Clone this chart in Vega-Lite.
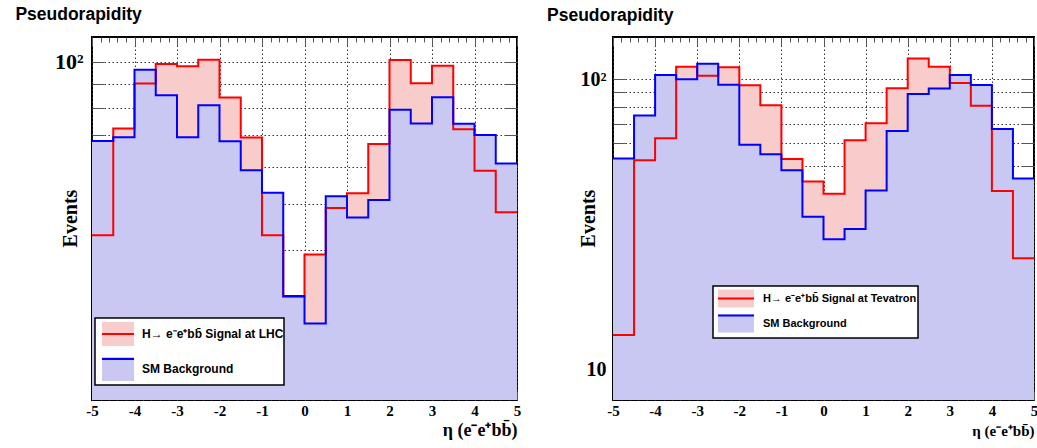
{
  "$schema": "https://vega.github.io/schema/vega-lite/v6.json",
  "background": "white",
  "padding": {"left": 14, "top": 5, "right": 0, "bottom": 0},
  "spacing": 24,
  "config": {
    "view": {"stroke": "black", "strokeWidth": 2},
    "axis": {
      "labelFont": "Liberation Serif", "labelFontWeight": "bold", "labelColor": "black",
      "titleFont": "Liberation Serif", "titleFontWeight": "bold", "titleColor": "black",
      "domain": false, "tickColor": "#555", "gridColor": "#333", "gridDash": [1.5, 2.5], "gridWidth": 1,
      "zindex": 1, "labelOverlap": false, "labelFlush": false, "labelBound": false
    }
  },
  "datasets": {
    "lhc": [
      {"eta": -5, "events": 43.0, "series": "H→ e⁻e⁺bb̄ Signal at LHC"},
      {"eta": -4.5, "events": 72.3, "series": "H→ e⁻e⁺bb̄ Signal at LHC"},
      {"eta": -4, "events": 90.0, "series": "H→ e⁻e⁺bb̄ Signal at LHC"},
      {"eta": -3.5, "events": 99.0, "series": "H→ e⁻e⁺bb̄ Signal at LHC"},
      {"eta": -3, "events": 97.9, "series": "H→ e⁻e⁺bb̄ Signal at LHC"},
      {"eta": -2.5, "events": 101.1, "series": "H→ e⁻e⁺bb̄ Signal at LHC"},
      {"eta": -2, "events": 84.1, "series": "H→ e⁻e⁺bb̄ Signal at LHC"},
      {"eta": -1.5, "events": 69.2, "series": "H→ e⁻e⁺bb̄ Signal at LHC"},
      {"eta": -1, "events": 43.0, "series": "H→ e⁻e⁺bb̄ Signal at LHC"},
      {"eta": -0.5, "events": 31.9, "series": "H→ e⁻e⁺bb̄ Signal at LHC"},
      {"eta": 0, "events": 39.2, "series": "H→ e⁻e⁺bb̄ Signal at LHC"},
      {"eta": 0.5, "events": 49.1, "series": "H→ e⁻e⁺bb̄ Signal at LHC"},
      {"eta": 1, "events": 52.8, "series": "H→ e⁻e⁺bb̄ Signal at LHC"},
      {"eta": 1.5, "events": 67.1, "series": "H→ e⁻e⁺bb̄ Signal at LHC"},
      {"eta": 2, "events": 101.0, "series": "H→ e⁻e⁺bb̄ Signal at LHC"},
      {"eta": 2.5, "events": 90.2, "series": "H→ e⁻e⁺bb̄ Signal at LHC"},
      {"eta": 3, "events": 98.2, "series": "H→ e⁻e⁺bb̄ Signal at LHC"},
      {"eta": 3.5, "events": 72.1, "series": "H→ e⁻e⁺bb̄ Signal at LHC"},
      {"eta": 4, "events": 58.9, "series": "H→ e⁻e⁺bb̄ Signal at LHC"},
      {"eta": 4.5, "events": 48.1, "series": "H→ e⁻e⁺bb̄ Signal at LHC"},
      {"eta": 5, "events": 48.1, "series": "H→ e⁻e⁺bb̄ Signal at LHC"},
      {"eta": -5, "events": 68.1, "series": "SM Background"},
      {"eta": -4.5, "events": 69.3, "series": "SM Background"},
      {"eta": -4, "events": 96.3, "series": "SM Background"},
      {"eta": -3.5, "events": 85.0, "series": "SM Background"},
      {"eta": -3, "events": 69.3, "series": "SM Background"},
      {"eta": -2.5, "events": 81.0, "series": "SM Background"},
      {"eta": -2, "events": 68.0, "series": "SM Background"},
      {"eta": -1.5, "events": 59.0, "series": "SM Background"},
      {"eta": -1, "events": 52.9, "series": "SM Background"},
      {"eta": -0.5, "events": 32.0, "series": "SM Background"},
      {"eta": 0, "events": 28.0, "series": "SM Background"},
      {"eta": 0.5, "events": 52.0, "series": "SM Background"},
      {"eta": 1, "events": 46.9, "series": "SM Background"},
      {"eta": 1.5, "events": 51.1, "series": "SM Background"},
      {"eta": 2, "events": 79.2, "series": "SM Background"},
      {"eta": 2.5, "events": 74.1, "series": "SM Background"},
      {"eta": 3, "events": 84.2, "series": "SM Background"},
      {"eta": 3.5, "events": 74.0, "series": "SM Background"},
      {"eta": 4, "events": 70.1, "series": "SM Background"},
      {"eta": 4.5, "events": 61.0, "series": "SM Background"},
      {"eta": 5, "events": 61.0, "series": "SM Background"}
    ],
    "tev": [
      {"eta": -5, "events": 13.1, "series": "H→ e⁻e⁺bb̄ Signal at Tevatron"},
      {"eta": -4.5, "events": 52.5, "series": "H→ e⁻e⁺bb̄ Signal at Tevatron"},
      {"eta": -4, "events": 62.5, "series": "H→ e⁻e⁺bb̄ Signal at Tevatron"},
      {"eta": -3.5, "events": 110.3, "series": "H→ e⁻e⁺bb̄ Signal at Tevatron"},
      {"eta": -3, "events": 102.7, "series": "H→ e⁻e⁺bb̄ Signal at Tevatron"},
      {"eta": -2.5, "events": 109.7, "series": "H→ e⁻e⁺bb̄ Signal at Tevatron"},
      {"eta": -2, "events": 95.1, "series": "H→ e⁻e⁺bb̄ Signal at Tevatron"},
      {"eta": -1.5, "events": 81.2, "series": "H→ e⁻e⁺bb̄ Signal at Tevatron"},
      {"eta": -1, "events": 53.0, "series": "H→ e⁻e⁺bb̄ Signal at Tevatron"},
      {"eta": -0.5, "events": 44.3, "series": "H→ e⁻e⁺bb̄ Signal at Tevatron"},
      {"eta": 0, "events": 40.2, "series": "H→ e⁻e⁺bb̄ Signal at Tevatron"},
      {"eta": 0.5, "events": 61.5, "series": "H→ e⁻e⁺bb̄ Signal at Tevatron"},
      {"eta": 1, "events": 70.4, "series": "H→ e⁻e⁺bb̄ Signal at Tevatron"},
      {"eta": 1.5, "events": 92.9, "series": "H→ e⁻e⁺bb̄ Signal at Tevatron"},
      {"eta": 2, "events": 117.8, "series": "H→ e⁻e⁺bb̄ Signal at Tevatron"},
      {"eta": 2.5, "events": 110.3, "series": "H→ e⁻e⁺bb̄ Signal at Tevatron"},
      {"eta": 3, "events": 96.9, "series": "H→ e⁻e⁺bb̄ Signal at Tevatron"},
      {"eta": 3.5, "events": 80.8, "series": "H→ e⁻e⁺bb̄ Signal at Tevatron"},
      {"eta": 4, "events": 41.1, "series": "H→ e⁻e⁺bb̄ Signal at Tevatron"},
      {"eta": 4.5, "events": 24.1, "series": "H→ e⁻e⁺bb̄ Signal at Tevatron"},
      {"eta": 5, "events": 24.1, "series": "H→ e⁻e⁺bb̄ Signal at Tevatron"},
      {"eta": -5, "events": 53.2, "series": "SM Background"},
      {"eta": -4.5, "events": 74.8, "series": "SM Background"},
      {"eta": -4, "events": 103.2, "series": "SM Background"},
      {"eta": -3.5, "events": 99.8, "series": "SM Background"},
      {"eta": -3, "events": 113.0, "series": "SM Background"},
      {"eta": -2.5, "events": 95.6, "series": "SM Background"},
      {"eta": -2, "events": 59.3, "series": "SM Background"},
      {"eta": -1.5, "events": 55.0, "series": "SM Background"},
      {"eta": -1, "events": 48.5, "series": "SM Background"},
      {"eta": -0.5, "events": 33.5, "series": "SM Background"},
      {"eta": 0, "events": 28.0, "series": "SM Background"},
      {"eta": 0.5, "events": 30.4, "series": "SM Background"},
      {"eta": 1, "events": 41.3, "series": "SM Background"},
      {"eta": 1.5, "events": 66.2, "series": "SM Background"},
      {"eta": 2, "events": 88.8, "series": "SM Background"},
      {"eta": 2.5, "events": 92.7, "series": "SM Background"},
      {"eta": 3, "events": 103.2, "series": "SM Background"},
      {"eta": 3.5, "events": 95.4, "series": "SM Background"},
      {"eta": 4, "events": 67.3, "series": "SM Background"},
      {"eta": 4.5, "events": 45.4, "series": "SM Background"},
      {"eta": 5, "events": 45.4, "series": "SM Background"}
    ]
  },
  "resolve": {
    "scale": {"x": "independent", "y": "independent", "fill": "independent", "stroke": "independent"},
    "legend": {"fill": "independent", "stroke": "independent"}
  },
  "hconcat": [
    {
      "width": 425, "height": 363,
      "data": {"name": "lhc"},
      "title": {"text": "Pseudorapidity", "anchor": "start", "frame": "bounds", "font": "Liberation Sans", "fontWeight": "bold", "fontSize": 17.5, "color": "black", "offset": 13, "dx": -39},
      "resolve": {"axis": {"x": "independent", "y": "independent"}},
      "layer": [
        {
          "transform": [{"filter": {"not": {"field": "series", "equal": "SM Background"}}}],
          "mark": {"type": "area", "interpolate": "step-after", "clip": true},
          "encoding": {
            "x": {"field": "eta", "type": "quantitative", "scale": {"domain": [-5, 5], "nice": false, "zero": false},
              "axis": {"orient": "bottom", "values": [-5,-4.8,-4.6,-4.4,-4.2,-4,-3.8,-3.6,-3.4,-3.2,-3,-2.8,-2.6,-2.4,-2.2,-2,-1.8,-1.6,-1.4,-1.2,-1,-0.8,-0.6,-0.4,-0.2,0,0.2,0.4,0.6,0.8,1,1.2,1.4,1.6,1.8,2,2.2,2.4,2.6,2.8,3,3.2,3.4,3.6,3.8,4,4.2,4.4,4.6,4.8,5],
                "labelExpr": "datum.value % 1 == 0 ? toString(datum.value) : ''",
                "labelFontSize": 15, "labelPadding": 12,
                "tickSize": {"condition": {"test": "datum.value % 1 == 0", "value": -9}, "value": -5},
                "grid": true, "gridOpacity": {"condition": {"test": "datum.value % 1 == 0", "value": 1}, "value": 0},
                "title": "η (e⁻e⁺bb̄)", "titleFontSize": 18, "titleX": 425, "titleY": 30, "titleAlign": "right", "titleBaseline": "middle", "titleAnchor": "end"}},
            "y": {"field": "events", "type": "quantitative", "stack": null, "scale": {"type": "log", "domain": [19.3, 112.9], "nice": false},
              "axis": {"orient": "left", "values": [20,30,40,50,60,70,80,90,100],
                "labelExpr": "datum.value == 100 ? '10²' : ''", "labelFontSize": 22, "labelPadding": 21,
                "tickSize": -12, "grid": true,
                "title": "Events", "titleFontSize": 20, "titleX": -22, "titleY": 181, "titleAngle": -90, "titleAlign": "center", "titleBaseline": "middle"}},
            "fill": {"field": "series", "type": "nominal",
              "scale": {"domain": ["H→ e⁻e⁺bb̄ Signal at LHC", "SM Background"], "range": ["#f9cccc", "#c8c8f2"]},
              "legend": {"orient": "none", "legendX": 3, "legendY": 281, "title": null, "padding": 0, "rowPadding": 3,
                "symbolType": "M-0.6,-0.8H1.533V0.8H-0.6Z", "symbolSize": 900, "symbolStrokeWidth": 2, "symbolStrokeColor": "transparent",
                "labelOffset": 15, "labelFont": "Liberation Sans", "labelFontWeight": "bold", "labelFontSize": 12, "labelColor": "black", "labelLimit": 400,
                "fillColor": "white", "strokeColor": "black",
                "encode": {"legend": {"update": {"strokeWidth": {"value": 1.5}}}}}}
          }
        },
        {
          "transform": [{"filter": {"field": "series", "equal": "SM Background"}}],
          "mark": {"type": "area", "interpolate": "step-after", "clip": true},
          "encoding": {
            "x": {"field": "eta", "type": "quantitative",
              "axis": {"orient": "top", "values": [-5,-4.8,-4.6,-4.4,-4.2,-4,-3.8,-3.6,-3.4,-3.2,-3,-2.8,-2.6,-2.4,-2.2,-2,-1.8,-1.6,-1.4,-1.2,-1,-0.8,-0.6,-0.4,-0.2,0,0.2,0.4,0.6,0.8,1,1.2,1.4,1.6,1.8,2,2.2,2.4,2.6,2.8,3,3.2,3.4,3.6,3.8,4,4.2,4.4,4.6,4.8,5],
                "labels": false, "grid": false, "title": null,
                "tickSize": {"condition": {"test": "datum.value % 1 == 0", "value": -9}, "value": -5}}},
            "y": {"field": "events", "type": "quantitative", "stack": null,
              "axis": {"orient": "right", "values": [20,30,40,50,60,70,80,90,100], "labels": false, "grid": false, "title": null, "tickSize": -12}},
            "fill": {"field": "series", "type": "nominal"}
          }
        },
        {
          "transform": [{"filter": {"not": {"field": "series", "equal": "SM Background"}}}],
          "mark": {"type": "line", "interpolate": "step-after", "clip": true, "strokeWidth": 2},
          "encoding": {
            "x": {"field": "eta", "type": "quantitative", "axis": null},
            "y": {"field": "events", "type": "quantitative", "axis": null},
            "stroke": {"field": "series", "type": "nominal",
              "scale": {"range": ["#ff0000", "#0000ff"]},
              "legend": {"orient": "none", "legendX": 3, "legendY": 281, "title": null, "padding": 0, "rowPadding": 3,
                "symbolType": "M-0.6,0H1.533", "symbolSize": 900, "symbolStrokeWidth": 2, "symbolFillColor": "transparent",
                "labelOffset": 15, "labelFont": "Liberation Sans", "labelFontWeight": "bold", "labelFontSize": 12, "labelExpr": "''", "labelLimit": 400,
                "strokeColor": "transparent"}}
          }
        },
        {
          "transform": [{"filter": {"field": "series", "equal": "SM Background"}}],
          "mark": {"type": "line", "interpolate": "step-after", "clip": true, "strokeWidth": 2},
          "encoding": {
            "x": {"field": "eta", "type": "quantitative", "axis": null},
            "y": {"field": "events", "type": "quantitative", "axis": null},
            "stroke": {"field": "series", "type": "nominal"}
          }
        }
      ]
    },
    {
      "width": 421, "height": 363,
      "data": {"name": "tev"},
      "title": {"text": "Pseudorapidity", "anchor": "start", "frame": "bounds", "font": "Liberation Sans", "fontWeight": "bold", "fontSize": 17.5, "color": "black", "offset": 12, "dx": -31},
      "resolve": {"axis": {"x": "independent", "y": "independent"}},
      "layer": [
        {
          "transform": [{"filter": {"not": {"field": "series", "equal": "SM Background"}}}],
          "mark": {"type": "area", "interpolate": "step-after", "clip": true},
          "encoding": {
            "x": {"field": "eta", "type": "quantitative", "scale": {"domain": [-5, 5], "nice": false, "zero": false},
              "axis": {"orient": "bottom", "values": [-5,-4.8,-4.6,-4.4,-4.2,-4,-3.8,-3.6,-3.4,-3.2,-3,-2.8,-2.6,-2.4,-2.2,-2,-1.8,-1.6,-1.4,-1.2,-1,-0.8,-0.6,-0.4,-0.2,0,0.2,0.4,0.6,0.8,1,1.2,1.4,1.6,1.8,2,2.2,2.4,2.6,2.8,3,3.2,3.4,3.6,3.8,4,4.2,4.4,4.6,4.8,5],
                "labelExpr": "datum.value % 1 == 0 ? toString(datum.value) : ''",
                "labelFontSize": 15, "labelPadding": 12,
                "tickSize": {"condition": {"test": "datum.value % 1 == 0", "value": -9}, "value": -5},
                "grid": true, "gridOpacity": {"condition": {"test": "datum.value % 1 == 0", "value": 1}, "value": 0},
                "title": "η (e⁻e⁺bb̄)", "titleFontSize": 15, "titleX": 421, "titleY": 30, "titleAlign": "right", "titleBaseline": "middle", "titleAnchor": "end"}},
            "y": {"field": "events", "type": "quantitative", "stack": null, "scale": {"type": "log", "domain": [7.82, 139.6], "nice": false},
              "axis": {"orient": "left", "values": [9,10,20,30,40,50,60,70,80,90,100],
                "labelExpr": "datum.value == 100 ? '10²' : datum.value == 10 ? '10' : ''", "labelFontSize": 20, "labelPadding": 19,
                "tickSize": -12, "grid": true,
                "title": "Events", "titleFontSize": 20, "titleX": -25, "titleY": 181, "titleAngle": -90, "titleAlign": "center", "titleBaseline": "middle"}},
            "fill": {"field": "series", "type": "nominal",
              "scale": {"domain": ["H→ e⁻e⁺bb̄ Signal at Tevatron", "SM Background"], "range": ["#f9cccc", "#c8c8f2"]},
              "legend": {"orient": "none", "legendX": 100, "legendY": 249, "title": null, "padding": 1, "rowPadding": -8,
                "symbolType": "M-0.714,-0.857H2.714V0.857H-0.714Z", "symbolSize": 441, "symbolStrokeWidth": 2, "symbolStrokeColor": "transparent",
                "labelOffset": 26, "labelFont": "Liberation Sans", "labelFontWeight": "bold", "labelFontSize": 11, "labelColor": "black", "labelLimit": 400,
                "fillColor": "white", "strokeColor": "black",
                "encode": {"legend": {"update": {"strokeWidth": {"value": 1.5}}}}}}
          }
        },
        {
          "transform": [{"filter": {"field": "series", "equal": "SM Background"}}],
          "mark": {"type": "area", "interpolate": "step-after", "clip": true},
          "encoding": {
            "x": {"field": "eta", "type": "quantitative",
              "axis": {"orient": "top", "values": [-5,-4.8,-4.6,-4.4,-4.2,-4,-3.8,-3.6,-3.4,-3.2,-3,-2.8,-2.6,-2.4,-2.2,-2,-1.8,-1.6,-1.4,-1.2,-1,-0.8,-0.6,-0.4,-0.2,0,0.2,0.4,0.6,0.8,1,1.2,1.4,1.6,1.8,2,2.2,2.4,2.6,2.8,3,3.2,3.4,3.6,3.8,4,4.2,4.4,4.6,4.8,5],
                "labels": false, "grid": false, "title": null,
                "tickSize": {"condition": {"test": "datum.value % 1 == 0", "value": -9}, "value": -5}}},
            "y": {"field": "events", "type": "quantitative", "stack": null,
              "axis": {"orient": "right", "values": [9,10,20,30,40,50,60,70,80,90,100], "labels": false, "grid": false, "title": null, "tickSize": -12}},
            "fill": {"field": "series", "type": "nominal"}
          }
        },
        {
          "transform": [{"filter": {"not": {"field": "series", "equal": "SM Background"}}}],
          "mark": {"type": "line", "interpolate": "step-after", "clip": true, "strokeWidth": 2},
          "encoding": {
            "x": {"field": "eta", "type": "quantitative", "axis": null},
            "y": {"field": "events", "type": "quantitative", "axis": null},
            "stroke": {"field": "series", "type": "nominal",
              "scale": {"range": ["#ff0000", "#0000ff"]},
              "legend": {"orient": "none", "legendX": 100, "legendY": 249, "title": null, "padding": 1, "rowPadding": -8,
                "symbolType": "M-0.714,0H2.714", "symbolSize": 441, "symbolStrokeWidth": 2, "symbolFillColor": "transparent",
                "labelOffset": 26, "labelFont": "Liberation Sans", "labelFontWeight": "bold", "labelFontSize": 11, "labelExpr": "''", "labelLimit": 400,
                "strokeColor": "transparent"}}
          }
        },
        {
          "transform": [{"filter": {"field": "series", "equal": "SM Background"}}],
          "mark": {"type": "line", "interpolate": "step-after", "clip": true, "strokeWidth": 2},
          "encoding": {
            "x": {"field": "eta", "type": "quantitative", "axis": null},
            "y": {"field": "events", "type": "quantitative", "axis": null},
            "stroke": {"field": "series", "type": "nominal"}
          }
        }
      ]
    }
  ]
}
